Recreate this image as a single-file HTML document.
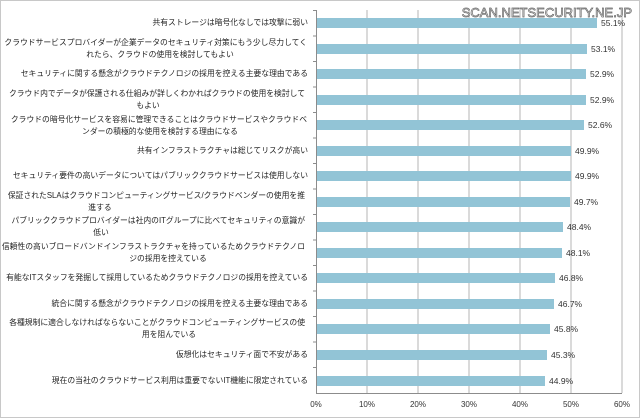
<!DOCTYPE html>
<html><head><meta charset="utf-8"><style>
html,body{margin:0;padding:0;background:#fff}
svg{display:block}
text{font-family:"Liberation Sans","Noto Sans CJK JP",sans-serif}
</style></head><body>
<svg width="640" height="418" viewBox="0 0 640 418" xmlns="http://www.w3.org/2000/svg">
<rect x="0.5" y="0.5" width="639" height="417" fill="#fff" stroke="#c8c8c8"/>
<g stroke="#b4b4b4" stroke-width="1">
<line x1="367" y1="10" x2="367" y2="393"/>
<line x1="418" y1="10" x2="418" y2="393"/>
<line x1="469" y1="10" x2="469" y2="393"/>
<line x1="520" y1="10" x2="520" y2="393"/>
<line x1="571" y1="10" x2="571" y2="393"/>
<line x1="622" y1="10" x2="622" y2="393"/>
</g>
<g stroke="#8c8c8c" stroke-width="1">
<line x1="316.5" y1="10" x2="316.5" y2="393"/>
<line x1="316" y1="393.5" x2="622" y2="393.5"/>
<line x1="313" y1="10.5" x2="316" y2="10.5"/><line x1="313" y1="36" x2="316" y2="36"/><line x1="313" y1="61.5" x2="316" y2="61.5"/><line x1="313" y1="87" x2="316" y2="87"/><line x1="313" y1="112.5" x2="316" y2="112.5"/><line x1="313" y1="138" x2="316" y2="138"/><line x1="313" y1="163.5" x2="316" y2="163.5"/><line x1="313" y1="189" x2="316" y2="189"/><line x1="313" y1="214.5" x2="316" y2="214.5"/><line x1="313" y1="240" x2="316" y2="240"/><line x1="313" y1="265.5" x2="316" y2="265.5"/><line x1="313" y1="291" x2="316" y2="291"/><line x1="313" y1="316.5" x2="316" y2="316.5"/><line x1="313" y1="342" x2="316" y2="342"/><line x1="313" y1="367.5" x2="316" y2="367.5"/>
</g>
<g fill="#92c4d6">
<rect x="317" y="18" width="280" height="10"/>
<rect x="317" y="44" width="270" height="10"/>
<rect x="317" y="69" width="269" height="10"/>
<rect x="317" y="95" width="269" height="10"/>
<rect x="317" y="120" width="267" height="10"/>
<rect x="317" y="146" width="254" height="10"/>
<rect x="317" y="171" width="254" height="10"/>
<rect x="317" y="197" width="253" height="10"/>
<rect x="317" y="222" width="246" height="10"/>
<rect x="317" y="248" width="245" height="10"/>
<rect x="317" y="273" width="238" height="10"/>
<rect x="317" y="299" width="237" height="10"/>
<rect x="317" y="324" width="233" height="10"/>
<rect x="317" y="350" width="230" height="10"/>
<rect x="317" y="376" width="228" height="10"/>
</g>
<g font-size="8.5" fill="#333">
<text x="601" y="26">55.1%</text>
<text x="591" y="52">53.1%</text>
<text x="590" y="77">52.9%</text>
<text x="590" y="103">52.9%</text>
<text x="588" y="128">52.6%</text>
<text x="575" y="154">49.9%</text>
<text x="575" y="179">49.9%</text>
<text x="574" y="205">49.7%</text>
<text x="567" y="230">48.4%</text>
<text x="566" y="256">48.1%</text>
<text x="559" y="281">46.8%</text>
<text x="558" y="307">46.7%</text>
<text x="554" y="332">45.8%</text>
<text x="551" y="358">45.3%</text>
<text x="549" y="384">44.9%</text>
</g>
<g font-size="8" fill="#333" text-anchor="middle">
<text x="316" y="407">0%</text><text x="367" y="407">10%</text><text x="418" y="407">20%</text><text x="469" y="407">30%</text><text x="520" y="407">40%</text><text x="571" y="407">50%</text><text x="622" y="407">60%</text>
</g>
<g font-size="7.8" fill="#222" text-anchor="end">
<text x="308" y="25">共有ストレージは暗号化なしでは攻撃に弱い</text>
<text x="307" y="45">クラウドサービスプロバイダーが企業データのセキュリティ対策にもう少し尽力してく</text>
<text x="160" y="57" text-anchor="middle">れたら、クラウドの使用を検討してもよい</text>
<text x="308" y="76">セキュリティに関する懸念がクラウドテクノロジの採用を控える主要な理由である</text>
<text x="305" y="96">クラウド内でデータが保護される仕組みが詳しくわかればクラウドの使用を検討して</text>
<text x="148" y="108" text-anchor="middle">もよい</text>
<text x="307" y="122">クラウドの暗号化サービスを容易に管理できることはクラウドサービスやクラウドベ</text>
<text x="160" y="134" text-anchor="middle">ンダーの積極的な使用を検討する理由になる</text>
<text x="308" y="153">共有インフラストラクチャは総じてリスクが高い</text>
<text x="308" y="178">セキュリティ要件の高いデータについてはパブリッククラウドサービスは使用しない</text>
<text x="305" y="198">保証されたSLAはクラウドコンピューティングサービス/クラウドベンダーの使用を推</text>
<text x="100" y="210" text-anchor="middle">進する</text>
<text x="305" y="223">パブリッククラウドプロバイダーは社内のITグループに比べてセキュリティの意識が</text>
<text x="101" y="235" text-anchor="middle">低い</text>
<text x="305" y="249">信頼性の高いブロードバンドインフラストラクチャを持っているためクラウドテクノロ</text>
<text x="168" y="261" text-anchor="middle">ジの採用を控えている</text>
<text x="308" y="280">有能なITスタッフを発掘して採用しているためクラウドテクノロジの採用を控えている</text>
<text x="308" y="306">統合に関する懸念がクラウドテクノロジの採用を控える主要な理由である</text>
<text x="305" y="325">各種規制に適合しなければならないことがクラウドコンピューティングサービスの使</text>
<text x="169" y="337" text-anchor="middle">用を阻んでいる</text>
<text x="308" y="357">仮想化はセキュリティ面で不安がある</text>
<text x="308" y="383">現在の当社のクラウドサービス利用は重要でないIT機能に限定されている</text>
</g>
<text x="632" y="17" font-size="13" text-anchor="end" fill="#fff" stroke="#666" stroke-width="0.7">SCAN.NETSECURITY.NE.JP</text>
</svg>
</body></html>
